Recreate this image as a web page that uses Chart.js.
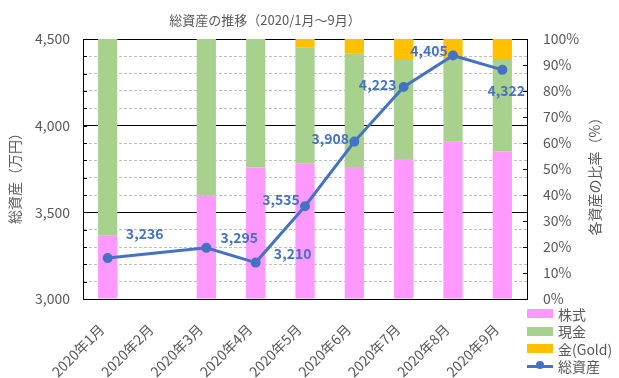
<!DOCTYPE html>
<html>
<head>
<meta charset="utf-8">
<script src="https://cdn.jsdelivr.net/npm/chart.js@4/dist/chart.umd.min.js"></script>
<style>
  html, body { margin: 0; padding: 0; background: #fff; }
  #wrap { position: relative; width: 619px; height: 378px; }
  #legend { position: absolute; left: 527px; top: 305px; font-family: "Noto Sans CJK JP", sans-serif; font-size: 14px; color: #595959; }
  #legend .row { display: flex; align-items: center; height: 17.5px; }
  #legend .sw { width: 26px; margin-right: 5px; }
</style>
</head>
<body>
<div id="wrap">
  <canvas id="c" width="619" height="378"></canvas>
  <div id="legend"></div>
</div>
<script>
const months = ["2020年1月", "2020年2月", "2020年3月", "2020年4月", "2020年5月", "2020年6月", "2020年7月", "2020年8月", "2020年9月"];
// share of each asset (%)
const stocks = [24.3, null, 39.7, 50.6, 52.0, 50.8, 53.8, 60.5, 56.7];
const cash = [75.7, null, 60.3, 49.4, 44.8, 43.5, 38.5, 32.1, 35.6];
const gold = [0, null, 0, 0, 3.2, 5.7, 7.7, 7.4, 7.7];
// total assets (万円)
const total = [3236, null, 3295, 3210, 3535, 3908, 4223, 4405, 4322];

// where each value label sits relative to its point
const labelOffsets = [[37, -24], null, [33, -10], [37, -9], [-24, -7], [-24, -3], [-26, -2], [-24, -5], [4, 21]];

const FONT = "'Noto Sans CJK JP', sans-serif";
const GREY = "#595959";
const BLUE = "#4472C4";
Chart.defaults.font.family = FONT;
Chart.defaults.color = GREY;

const isMajor = (c) => c.tick && Math.round(c.tick.value) % 500 === 0;

const extras = {
  id: "extras",
  afterDatasetsDraw(chart) {
    const { ctx, chartArea: a, scales } = chart;
    ctx.save();
    // small inner tick marks
    ctx.strokeStyle = "#000";
    ctx.lineWidth = 1;
    for (let v = 3100; v < 4500; v += 100) {
      const y = Math.round(scales.y.getPixelForValue(v)) + 0.5;
      ctx.beginPath(); ctx.moveTo(a.left, y); ctx.lineTo(a.left + 4, y); ctx.stroke();
    }
    for (let v = 10; v < 100; v += 10) {
      const y = Math.round(scales.y1.getPixelForValue(v)) + 0.5;
      ctx.beginPath(); ctx.moveTo(a.right, y); ctx.lineTo(a.right - 4, y); ctx.stroke();
    }
    // value labels on the line
    const meta = chart.getDatasetMeta(3);
    ctx.font = "bold 14px " + FONT;
    ctx.fillStyle = BLUE;
    ctx.textAlign = "center";
    ctx.textBaseline = "middle";
    meta.data.forEach((pt, i) => {
      if (total[i] == null || !labelOffsets[i]) return;
      ctx.fillText(total[i].toLocaleString("en-US"), pt.x + labelOffsets[i][0], pt.y + labelOffsets[i][1]);
    });
    // titles
    ctx.fillStyle = GREY;
    ctx.font = "13px " + FONT;
    ctx.fillText("総資産の推移（2020/1月～9月）", 265, 20);
    ctx.font = "14px " + FONT;
    ctx.save();
    ctx.translate(15, 175);
    ctx.rotate(-Math.PI / 2);
    ctx.fillText("総資産（万円）", 0, 0);
    ctx.restore();
    ctx.save();
    ctx.translate(595, 173);
    ctx.rotate(-Math.PI / 2);
    ctx.fillText("各資産の比率（%）", 0, 0);
    ctx.restore();
    ctx.restore();
  }
};

const chart = new Chart(document.getElementById("c"), {
  data: {
    labels: months,
    datasets: [
      { type: "bar", label: "株式", data: stocks, backgroundColor: "#FF99FF", yAxisID: "y1", order: 1, barPercentage: 0.39, categoryPercentage: 1 },
      { type: "bar", label: "現金", data: cash, backgroundColor: "#A9D18E", yAxisID: "y1", order: 1, barPercentage: 0.39, categoryPercentage: 1 },
      { type: "bar", label: "金(Gold)", data: gold, backgroundColor: "#FFC000", yAxisID: "y1", order: 1, barPercentage: 0.39, categoryPercentage: 1 },
      { type: "line", label: "総資産", data: total, borderColor: BLUE, backgroundColor: BLUE, borderWidth: 3, pointRadius: 3.5, pointHoverRadius: 3.5, spanGaps: true, yAxisID: "y", order: 0 },
    ],
  },
  options: {
    responsive: false,
    animation: false,
    layout: { padding: { top: 39, left: 0, right: 0, bottom: 0 } },
    plugins: { legend: { display: false }, tooltip: { enabled: false } },
    scales: {
      x: {
        stacked: true,
        afterFit: (s) => { s.height = 79; },
        grid: { display: false },
        border: { color: "#000" },
        ticks: { autoSkip: false, maxRotation: 45, minRotation: 45, labelOffset: -6, padding: 14, font: { size: 14 }, color: GREY },
      },
      y: {
        position: "left",
        min: 3000,
        max: 4500,
        afterFit: (s) => { s.width = 83; },
        border: {
          color: "#000",
          dash: (c) => (c.tick && !isMajor(c) ? [3, 2] : []),
        },
        grid: {
          drawTicks: false,
          color: (c) => (isMajor(c) ? "#000" : "#bfbfbf"),
        },
        ticks: {
          stepSize: 100,
          autoSkip: false,
          padding: 13,
          font: { size: 14 },
          color: GREY,
          callback: (v) => (Math.round(v) % 500 === 0 ? Math.round(v).toLocaleString("en-US") : ""),
        },
      },
      y1: {
        position: "right",
        stacked: true,
        min: 0,
        max: 100,
        afterFit: (s) => { s.width = 92; },
        border: { color: "#000" },
        grid: { drawOnChartArea: false, drawTicks: false },
        ticks: { stepSize: 10, autoSkip: false, padding: 16, font: { size: 14 }, color: GREY, callback: (v) => Math.round(v) + "%" },
      },
    },
  },
  plugins: [extras],
});

// legend
const legend = document.getElementById("legend");
chart.data.datasets.forEach((ds) => {
  const row = document.createElement("div");
  row.className = "row";
  const sw = document.createElement("span");
  sw.className = "sw";
  if (ds.type === "line") {
    sw.style.cssText = "height:3px;background:" + ds.borderColor + ";position:relative";
    const dot = document.createElement("span");
    dot.style.cssText = "position:absolute;left:9px;top:-3.5px;width:8px;height:8px;border-radius:50%;background:" + ds.borderColor;
    sw.appendChild(dot);
  } else {
    sw.style.cssText = "height:9px;background:" + ds.backgroundColor;
  }
  const t = document.createElement("span");
  t.textContent = ds.label;
  row.appendChild(sw);
  row.appendChild(t);
  legend.appendChild(row);
});
</script>
</body>
</html>
